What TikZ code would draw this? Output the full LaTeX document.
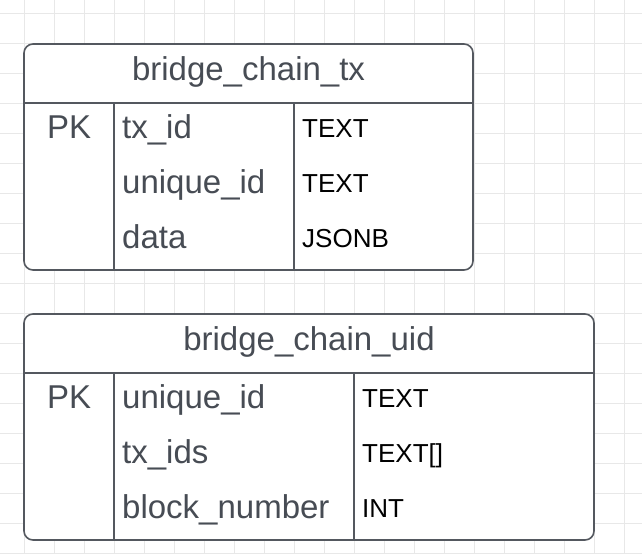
\documentclass[tikz,border=0pt]{standalone}
\usepackage{fontspec}
\setmainfont{Liberation Sans}
\usetikzlibrary{positioning}

\definecolor{gridgray}{HTML}{E8E8E8}
\definecolor{edgegray}{HTML}{54585F}
\definecolor{textgray}{HTML}{474C54}

\begin{document}
\begin{tikzpicture}
		[x=1pt,y=-1pt,
		table box/.style={draw=edgegray,line width=1.6pt,rounded corners=9pt,fill=white,inner sep=0pt},
		rule/.style={draw=edgegray,line width=1.6pt},
		name text/.style={text=textgray,font=\fontsize{33}{33}\selectfont,inner sep=0pt,anchor=base west},
		head text/.style={text=textgray,font=\fontsize{33}{33}\selectfont,inner sep=0pt,anchor=base},
		type text/.style={text=black,font=\fontsize{26}{26}\selectfont,inner sep=0pt,anchor=base west}]
		\useasboundingbox (0,0) rectangle (642,554);
		
		% background grid
		\foreach \gx in {24,54,...,624}
		\draw[gridgray,line width=0.8pt] (\gx,0) -- (\gx,554);
		\foreach \gy in {13,43,...,553}
		\draw[gridgray,line width=0.8pt] (0,\gy) -- (642,\gy);
		
		% table bridge_chain_tx
		\node[table box,minimum width=449pt,minimum height=226pt] (tx) at (248.5,157) {};
		\coordinate (txh) at (24,103);
		\coordinate (txa) at (114,103);
		\coordinate (txb) at (294,103);
		\draw[rule] (txh) -- (txh -| tx.east);
		\draw[rule] (txa) -- (txa |- tx.south);
		\draw[rule] (txb) -- (txb |- tx.south);
		
		\node[head text] (txtitle) at (248.5,80) {bridge\_chain\_tx};
		\node[name text] (txpk) at (47,138) {PK};
		\node[name text] (txid) at (122,138) {tx\_id};
		\node[name text] (txuid) at (122,193) {unique\_id};
		\node[name text] (txdata) at (122,248) {data};
		\node[type text] (txidt) at (302,137) {TEXT};
		\node[type text] (txuidt) at (302,192) {TEXT};
		\node[type text] (txdatat) at (302,247) {JSONB};
		
		% table bridge_chain_uid
		\node[table box,minimum width=570pt,minimum height=226pt] (uid) at (309,427) {};
		\coordinate (uidh) at (24,373);
		\coordinate (uida) at (114,373);
		\coordinate (uidb) at (354,373);
		\draw[rule] (uidh) -- (uidh -| uid.east);
		\draw[rule] (uida) -- (uida |- uid.south);
		\draw[rule] (uidb) -- (uidb |- uid.south);
		
		\node[head text] (uidtitle) at (309,350) {bridge\_chain\_uid};
		\node[name text] (uidpk) at (47,408) {PK};
		\node[name text] (uiduid) at (122,408) {unique\_id};
		\node[name text] (uidtxs) at (122,463) {tx\_ids};
		\node[name text] (uidblk) at (122,518) {block\_number};
		\node[type text] (uiduidt) at (362,407) {TEXT};
		\node[type text] (uidtxst) at (362,462) {TEXT[]};
		\node[type text] (uidblkt) at (362,517) {INT};
		\end{tikzpicture}
\end{document}
